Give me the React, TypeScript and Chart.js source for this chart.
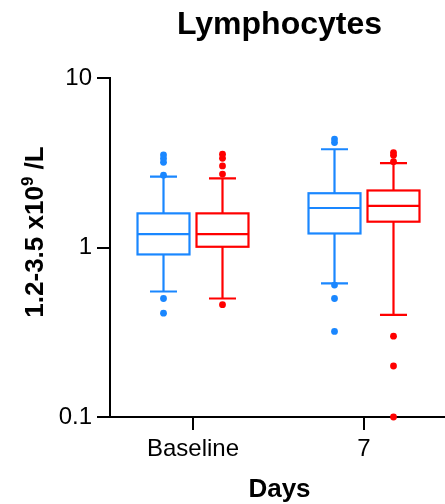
import React, { useEffect, useRef } from "react";
import { Chart, registerables } from "chart.js";

Chart.register(...registerables);

const categories = ["Baseline", "7"];
const yTickValues = [0.1, 1, 10];
const yTickLabels = ["0.1", "1", "10"];

// Blue series
const blueMin = [0.55, 0.615];
const blueQ1 = [0.91, 1.21];
const blueMedian = [1.2, 1.71];
const blueQ3 = [1.59, 2.09];
const blueMax = [2.62, 3.8];
const blueOutliers = [
  [3.52, 3.35, 3.18, 2.67, 0.5, 0.41],
  [4.36, 4.16, 0.6, 0.5, 0.32],
];

// Red series
const redMin = [0.5, 0.4];
const redQ1 = [1.01, 1.42];
const redMedian = [1.2, 1.76];
const redQ3 = [1.59, 2.17];
const redMax = [2.56, 3.15];
const redOutliers = [
  [3.55, 3.36, 3.03, 2.71, 0.46],
  [3.63, 3.5, 3.21, 0.3, 0.2, 0.1],
];

const BLUE = "#1A87FF";
const RED = "#FF0000";
const FONT = "'Liberation Sans', Arial, Helvetica, sans-serif";

const OFFSET = 0.1725;
const HALF_BOX = 0.152;
const HALF_CAP = 0.079;

const series = [
  { color: BLUE, off: -OFFSET, min: blueMin, q1: blueQ1, med: blueMedian, q3: blueQ3, max: blueMax, out: blueOutliers },
  { color: RED, off: OFFSET, min: redMin, q1: redQ1, med: redMedian, q3: redQ3, max: redMax, out: redOutliers },
];

const boxPlugin = {
  id: "boxPlugin",
  afterDatasetsDraw(chart: any) {
    const ctx = chart.ctx;
    const xs = chart.scales.x;
    const ys = chart.scales.y;
    ctx.save();
    series.forEach((s) => {
      categories.forEach((_, i) => {
        const cx = xs.getPixelForValue(i + s.off);
        const hw = Math.abs(xs.getPixelForValue(i + s.off + HALF_BOX) - cx);
        const hc = Math.abs(xs.getPixelForValue(i + s.off + HALF_CAP) - cx);
        const yMin = ys.getPixelForValue(s.min[i]);
        const yQ1 = ys.getPixelForValue(s.q1[i]);
        const yMed = ys.getPixelForValue(s.med[i]);
        const yQ3 = ys.getPixelForValue(s.q3[i]);
        const yMax = ys.getPixelForValue(s.max[i]);
        ctx.strokeStyle = s.color;
        ctx.lineWidth = 2.2;
        ctx.lineCap = "butt";
        ctx.strokeRect(cx - hw, yQ3, hw * 2, yQ1 - yQ3);
        ctx.beginPath();
        ctx.moveTo(cx - hw, yMed);
        ctx.lineTo(cx + hw, yMed);
        ctx.moveTo(cx, yQ3);
        ctx.lineTo(cx, yMax);
        ctx.moveTo(cx, yQ1);
        ctx.lineTo(cx, yMin);
        ctx.moveTo(cx - hc, yMax);
        ctx.lineTo(cx + hc, yMax);
        ctx.moveTo(cx - hc, yMin);
        ctx.lineTo(cx + hc, yMin);
        ctx.stroke();
      });
    });
    ctx.restore();
  },
  afterDraw(chart: any) {
    const ctx = chart.ctx;
    const area = chart.chartArea;
    const midX = (area.left + area.right) / 2 + 2;
    ctx.save();
    ctx.fillStyle = "#000";
    ctx.textBaseline = "alphabetic";
    ctx.textAlign = "center";
    ctx.font = `bold 32px ${FONT}`;
    ctx.fillText("Lymphocytes", midX, 34);
    ctx.font = `bold 26px ${FONT}`;
    ctx.fillText("Days", midX, 497);

    // Y title with superscript
    ctx.translate(43, 232);
    ctx.rotate(-Math.PI / 2);
    ctx.textAlign = "left";
    const p1 = "1.2-3.5 x10";
    const p2 = "9";
    const p3 = " /L";
    ctx.font = `bold 26px ${FONT}`;
    const w1 = ctx.measureText(p1).width;
    const w3 = ctx.measureText(p3).width;
    ctx.font = `bold 17px ${FONT}`;
    const w2 = ctx.measureText(p2).width;
    let x0 = -(w1 + w2 + w3) / 2;
    ctx.font = `bold 26px ${FONT}`;
    ctx.fillText(p1, x0, 0);
    x0 += w1;
    ctx.font = `bold 17px ${FONT}`;
    ctx.fillText(p2, x0, -10);
    x0 += w2;
    ctx.font = `bold 26px ${FONT}`;
    ctx.fillText(p3, x0, 0);
    ctx.restore();
  },
};

export default function App() {
  const ref = useRef<HTMLCanvasElement>(null);

  useEffect(() => {
    if (!ref.current) return;
    const datasets = series.map((s) => ({
      type: "scatter" as const,
      data: s.out.flatMap((vals, i) => vals.map((v) => ({ x: i + s.off, y: v }))),
      backgroundColor: s.color,
      borderColor: s.color,
      pointRadius: 3.4,
      pointBorderWidth: 0,
      clip: false as any,
    }));
    const chart = new Chart(ref.current, {
      type: "scatter",
      data: { datasets },
      plugins: [boxPlugin],
      options: {
        animation: false,
        responsive: false,
        devicePixelRatio: 1,
        layout: { autoPadding: false, padding: { top: 78, right: 0, left: 0, bottom: 0 } },
        plugins: {
          legend: { display: false },
          title: { display: false },
          tooltip: { enabled: false },
        },
        scales: {
          x: {
            type: "linear",
            min: -0.4854,
            max: 1.4737,
            afterBuildTicks: (scale: any) => {
              scale.ticks = categories.map((_, i) => ({ value: i }));
            },
            afterFit: (scale: any) => {
              scale.height = 87;
              scale.paddingLeft = 0;
              scale.paddingRight = 0;
            },
            ticks: {
              autoSkip: false,
              maxRotation: 0,
              padding: 5,
              color: "#000",
              font: { family: FONT, size: 24 },
              callback: (v: any) => categories[Math.round(Number(v))] ?? "",
            },
            grid: {
              drawOnChartArea: false,
              drawTicks: true,
              tickLength: 13,
              color: "#000",
              lineWidth: 2,
            },
            border: { display: true, color: "#000", width: 2 },
          },
          y: {
            type: "logarithmic",
            min: 0.1,
            max: 10,
            afterBuildTicks: (scale: any) => {
              scale.ticks = yTickValues.map((v) => ({ value: v, major: true }));
            },
            afterFit: (scale: any) => {
              scale.width = 110;
            },
            ticks: {
              autoSkip: false,
              padding: 5,
              color: "#000",
              font: { family: FONT, size: 24 },
              callback: (v: any) => {
                const idx = yTickValues.findIndex((t) => Math.abs(t - Number(v)) < 1e-9);
                return idx >= 0 ? yTickLabels[idx] : "";
              },
            },
            grid: {
              drawOnChartArea: false,
              drawTicks: true,
              tickLength: 13,
              color: "#000",
              lineWidth: 2,
            },
            border: { display: true, color: "#000", width: 2 },
          },
        },
      } as any,
    });
    return () => chart.destroy();
  }, []);

  return (
    <div style={{ position: "fixed", left: 0, top: 0, width: 445, height: 504, background: "#fff" }}>
      <canvas ref={ref} width={445} height={504} style={{ width: 445, height: 504 }} />
    </div>
  );
}
